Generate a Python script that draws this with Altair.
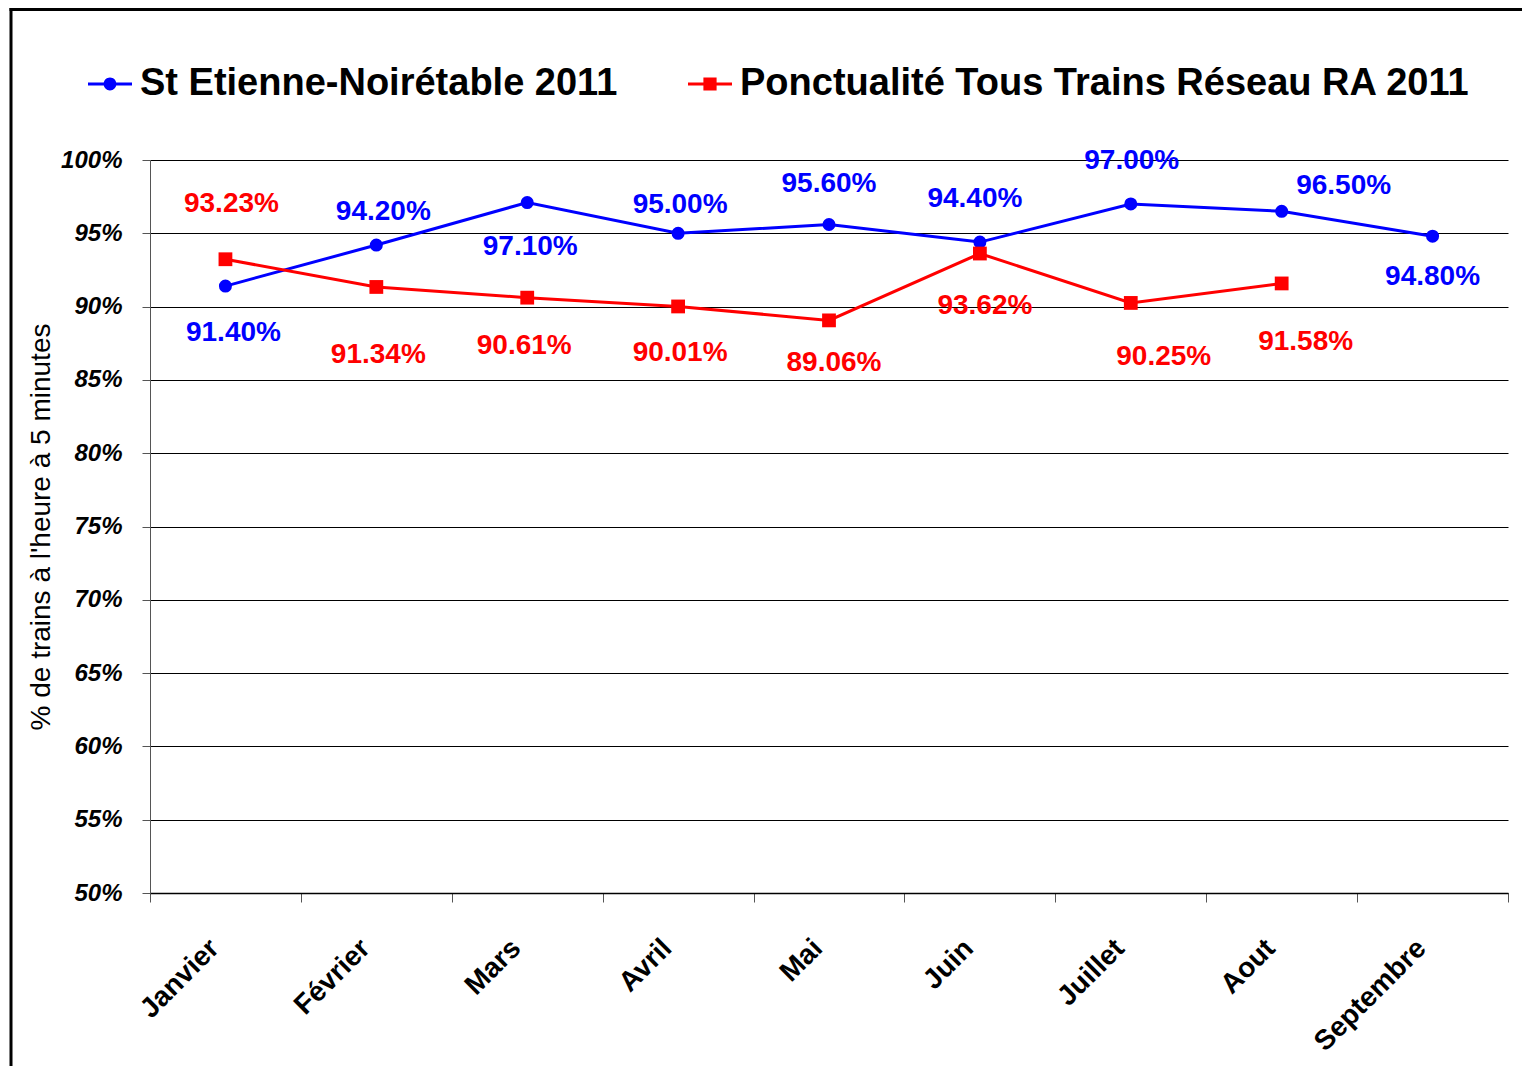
import altair as alt
import pandas as pd

months = ["Janvier", "Février", "Mars", "Avril", "Mai", "Juin", "Juillet", "Aout", "Septembre"]
series_names = ["St Etienne-Noirétable 2011", "Ponctualité Tous Trains Réseau RA 2011"]
blue_values = [91.40, 94.20, 97.10, 95.00, 95.60, 94.40, 97.00, 96.50, 94.80]
red_values = [93.23, 91.34, 90.61, 90.01, 89.06, 93.62, 90.25, 91.58]

# label placement offsets (pixels, relative to each point)
blue_label_dx = [8, 7, 3, 2, 0, -5, 1, 62, 0]
blue_label_dy = [47, -33, 44, -28, -41, -43, -43, -25, 41]
red_label_dx = [6, 2, -3, 2, 5, 5, 33, 24]
red_label_dy = [-55, 68, 48, 47, 43, 52, 54, 59]

rows = []
for m, v, dx, dy in zip(months, blue_values, blue_label_dx, blue_label_dy):
    rows.append({"month": m, "series": series_names[0], "value": v / 100, "dx": dx, "dy": dy})
for m, v, dx, dy in zip(months, red_values, red_label_dx, red_label_dy):
    rows.append({"month": m, "series": series_names[1], "value": v / 100, "dx": dx, "dy": dy})
df = pd.DataFrame(rows)

FONT = "Liberation Sans, Arial, sans-serif"
BLUE = "#0000FF"
RED = "#FF0000"

W, H = 1358, 733
Y_MIN, Y_MAX = 0.5, 1.0

circle_path = ("M-1,-0.07L-0.27,-0.07L-0.27,0.07L-1,0.07Z "
               "M0.27,-0.07L1,-0.07L1,0.07L0.27,0.07Z "
               "M0.29,0A0.29,0.29,0,1,1,-0.29,0A0.29,0.29,0,1,1,0.29,0Z")
square_path = ("M-1,-0.07L-0.3,-0.07L-0.3,0.07L-1,0.07Z "
               "M0.3,-0.07L1,-0.07L1,0.07L0.3,0.07Z "
               "M-0.3,-0.3L0.3,-0.3L0.3,0.3L-0.3,0.3Z")

legend = alt.Legend(
    title=None,
    orient="none",
    direction="horizontal",
    legendX=-62,
    legendY=-98,
    labelFont=FONT,
    labelFontSize=38,
    labelFontWeight="bold",
    labelColor="black",
    labelOffset=8,
    columnPadding=70,
    symbolSize=1936,
    symbolStrokeWidth=0,
    symbolOpacity=1,
    labelLimit=1000,
)

def color_scale():
    return alt.Scale(domain=series_names, range=[BLUE, RED])

x_enc = alt.X(
    "month:N",
    sort=months,
    bandPosition=0.5,
    scale=alt.Scale(type="band", domain=months, paddingInner=0, paddingOuter=0),
    axis=alt.Axis(
        title=None,
        labelAngle=-45,
        labelFont=FONT,
        labelFontSize=28,
        labelFontWeight="bold",
        labelColor="black",
        labelPadding=32,
        labelOffset=-21,
        tickBand="extent",
        tickSize=9,
        tickColor="#555555",
        domainColor="black",
        domainWidth=1.5,
        grid=False,
    ),
)

y_scale = alt.Scale(domain=[Y_MIN, Y_MAX], nice=False, zero=False)

y_enc = alt.Y(
    "value:Q",
    scale=y_scale,
    axis=alt.Axis(
        title="% de trains à l'heure à 5 minutes",
        values=[0.5, 0.55, 0.6, 0.65, 0.7, 0.75, 0.8, 0.85, 0.9, 0.95, 1.0],
        format=".0%",
        labelFont=FONT,
        labelFontSize=24,
        labelFontWeight="bold",
        labelFontStyle="italic",
        labelColor="black",
        labelPadding=20,
        tickSize=8,
        tickColor="#555555",
        domainColor="#555555",
        grid=True,
        gridColor="black",
        gridWidth=1,
        titleFont=FONT,
        titleFontSize=28,
        titleFontWeight="normal",
        titleColor="black",
        titlePadding=5,
    ),
)

base = alt.Chart(df)

lines = base.mark_line(strokeWidth=3).encode(
    x=x_enc, y=y_enc,
    color=alt.Color("series:N", scale=color_scale(), legend=None),
    detail="series:N",
)

points = base.mark_point(filled=True, opacity=1).encode(
    x=x_enc,
    y=y_enc,
    color=alt.Color("series:N", scale=color_scale(), legend=None),
    shape=alt.Shape("series:N", scale=alt.Scale(domain=series_names, range=["circle", "square"]), legend=None),
    size=alt.Size("series:N", scale=alt.Scale(domain=series_names, range=[170, 190]), legend=None),
)

labels = base.transform_calculate(
    label_value=f"datum.value - datum.dy * {(Y_MAX - Y_MIN) / H}"
).mark_text(
    font=FONT, fontSize=28, fontWeight="bold", align="center", baseline="middle", dx=W / len(months) / 2
).encode(
    x=alt.X("month:N", sort=months, scale=alt.Scale(type="band", domain=months, paddingInner=0, paddingOuter=0)),
    xOffset=alt.XOffset("dx:Q", scale=None),
    y=alt.Y("label_value:Q", scale=y_scale),
    text=alt.Text("value:Q", format=".2%"),
    color=alt.Color("series:N", scale=color_scale(), legend=None),
)

# invisible layer that only carries the legend (line + marker symbols)
legend_layer = base.mark_point(filled=True, opacity=0, size=1936).encode(
    color=alt.Color("series:N", scale=color_scale(), legend=legend),
    shape=alt.Shape("series:N", scale=alt.Scale(domain=series_names, range=[circle_path, square_path]), legend=legend),
)

frame_top = alt.Chart(pd.DataFrame({"a": [0]})).mark_rule(color="black", strokeWidth=3).encode(
    x=alt.value(-140.5), x2=alt.value(W + 14), y=alt.value(-150.5)
)
frame_left = alt.Chart(pd.DataFrame({"a": [0]})).mark_rule(color="black", strokeWidth=3).encode(
    x=alt.value(-139), y=alt.value(-152), y2=alt.value(H + 173)
)

chart = (
    alt.layer(lines, points, labels, legend_layer, frame_top, frame_left)
    .resolve_scale(shape="independent", color="independent")
    .properties(
        width=W,
        height=H,
        autosize=alt.AutoSizeParams(type="none"),
        padding={"left": 142, "top": 152, "right": 14, "bottom": 173},
        background="white",
    )
    .configure_view(strokeWidth=0)
)

chart.save("out.html", embed_options={"renderer": "svg", "actions": False})
